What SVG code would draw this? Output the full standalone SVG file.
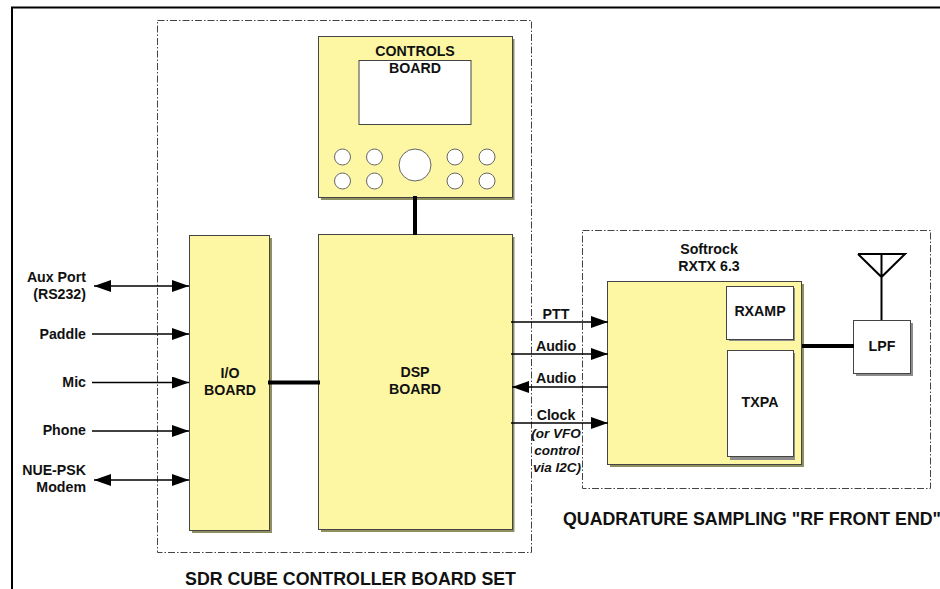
<svg xmlns="http://www.w3.org/2000/svg" width="940" height="589" viewBox="0 0 940 589">
<style>
text{font-family:"Liberation Sans",Arial,sans-serif;font-weight:bold;font-size:14.2px;fill:#111;text-anchor:middle}
.r{text-anchor:end}
.i{font-style:italic;font-size:13.5px}
.t{font-size:17.8px}
.b{fill:#fdf7a3;stroke:#444;stroke-width:1}
.w{fill:#fff;stroke:#444;stroke-width:1}
.s{fill:#8f8f60}
.sg{fill:#8c8c8c}
.k{fill:#fff;stroke:#666;stroke-width:1}
.d{fill:none;stroke:#444;stroke-width:1;stroke-dasharray:7 2 1.5 2}
.l{fill:none;stroke:#000;stroke-width:1.6}
.n{fill:none;stroke:#000;stroke-width:2}
.h{fill:none;stroke:#000;stroke-width:4}
</style>
<defs>
<marker id="a" markerUnits="userSpaceOnUse" markerWidth="17" markerHeight="14" refX="17" refY="6" orient="auto-start-reverse"><path d="M0 0L17 6L0 12Z" fill="#000"/></marker>
</defs>
<path d="M12 589V7.500H940" fill="none" stroke="#000" stroke-width="2"/>
<g id="region-sdr">
<rect class="d" x="157.500" y="20.500" width="374" height="532"/>
<text class="t" x="350.500" y="585">SDR CUBE CONTROLLER BOARD SET</text>
</g>
<g id="region-rf">
<rect class="d" x="582.500" y="230.500" width="348" height="258"/>
<text class="t" x="752" y="525">QUADRATURE SAMPLING "RF FRONT END"</text>
</g>
<g id="controls-board">
<rect class="s" x="321" y="39" width="193.500" height="161"/>
<rect class="b" x="318.500" y="36.500" width="194" height="161"/>
<rect class="w" x="359" y="60.500" width="112" height="64"/>
<text x="415" y="56">CONTROLS</text>
<text x="415" y="73">BOARD</text>
<circle class="k" cx="342.500" cy="157" r="8"/><circle class="k" cx="374.500" cy="157" r="8"/>
<circle class="k" cx="342.500" cy="181" r="8"/><circle class="k" cx="374.500" cy="181" r="8"/>
<circle class="k" cx="415" cy="165" r="16"/>
<circle class="k" cx="455" cy="157" r="8"/><circle class="k" cx="487" cy="157" r="8"/>
<circle class="k" cx="455" cy="181" r="8"/><circle class="k" cx="487" cy="181" r="8"/>
</g>
<g id="io-board">
<rect class="s" x="192" y="238" width="80" height="295"/>
<rect class="b" x="189.500" y="235.500" width="80" height="295"/>
<text x="230" y="378">I/O</text>
<text x="230" y="395">BOARD</text>
</g>
<g id="dsp-board">
<rect class="s" x="321" y="237" width="193.500" height="295"/>
<rect class="b" x="318.500" y="234.500" width="194" height="295"/>
<text x="415" y="377">DSP</text>
<text x="415" y="394">BOARD</text>
</g>
<g id="softrock">
<rect class="s" x="610" y="284" width="194" height="183"/>
<rect class="b" x="607.500" y="281.500" width="194" height="183"/>
<text x="709" y="254">Softrock</text>
<text x="709" y="271">RXTX 6.3</text>
</g>
<g id="rxamp">
<rect class="sg" x="729" y="288" width="66" height="53"/>
<rect class="w" x="726.500" y="286.500" width="67" height="53"/>
<text x="760" y="316">RXAMP</text>
</g>
<g id="txpa">
<rect class="sg" x="730" y="353" width="65" height="107"/>
<rect class="w" x="727.500" y="350.500" width="66" height="106"/>
<text x="760" y="407">TXPA</text>
</g>
<g id="lpf">
<rect class="sg" x="856" y="323" width="57" height="53"/>
<rect class="w" x="853.500" y="320.500" width="57" height="53"/>
<text x="882" y="351">LPF</text>
</g>
<g id="connectors">
<path class="h" d="M415 196V235M268 382.500H320M802 346H854"/>
<path class="n" d="M881.500 320V254M858 254H905L881.500 277L858 254"/>
<path class="l" marker-start="url(#a)" marker-end="url(#a)" d="M94 286H189"/>
<path class="l" marker-end="url(#a)" d="M92 334H189"/>
<path class="l" marker-end="url(#a)" d="M92 382.500H189"/>
<path class="l" marker-end="url(#a)" d="M92 431H189"/>
<path class="l" marker-start="url(#a)" marker-end="url(#a)" d="M94 480H189"/>
<path class="l" marker-end="url(#a)" d="M511 322H608"/>
<path class="l" marker-end="url(#a)" d="M511 354H608"/>
<path class="l" marker-end="url(#a)" d="M608 387H512"/>
<path class="l" marker-end="url(#a)" d="M511 423H608"/>
</g>
<g id="labels">
<text class="r" x="86" y="282">Aux Port</text>
<text class="r" x="86" y="299">(RS232)</text>
<text class="r" x="86" y="339">Paddle</text>
<text class="r" x="86" y="387">Mic</text>
<text class="r" x="86" y="435">Phone</text>
<text class="r" x="86" y="475">NUE-PSK</text>
<text class="r" x="86" y="492">Modem</text>
<text x="556" y="319">PTT</text>
<text x="556" y="351">Audio</text>
<text x="556" y="383">Audio</text>
<text x="556" y="420">Clock</text>
<text class="i" x="556" y="438">(or VFO</text>
<text class="i" x="557" y="455">control</text>
<text class="i" x="557" y="472">via I2C)</text>
</g>
</svg>
